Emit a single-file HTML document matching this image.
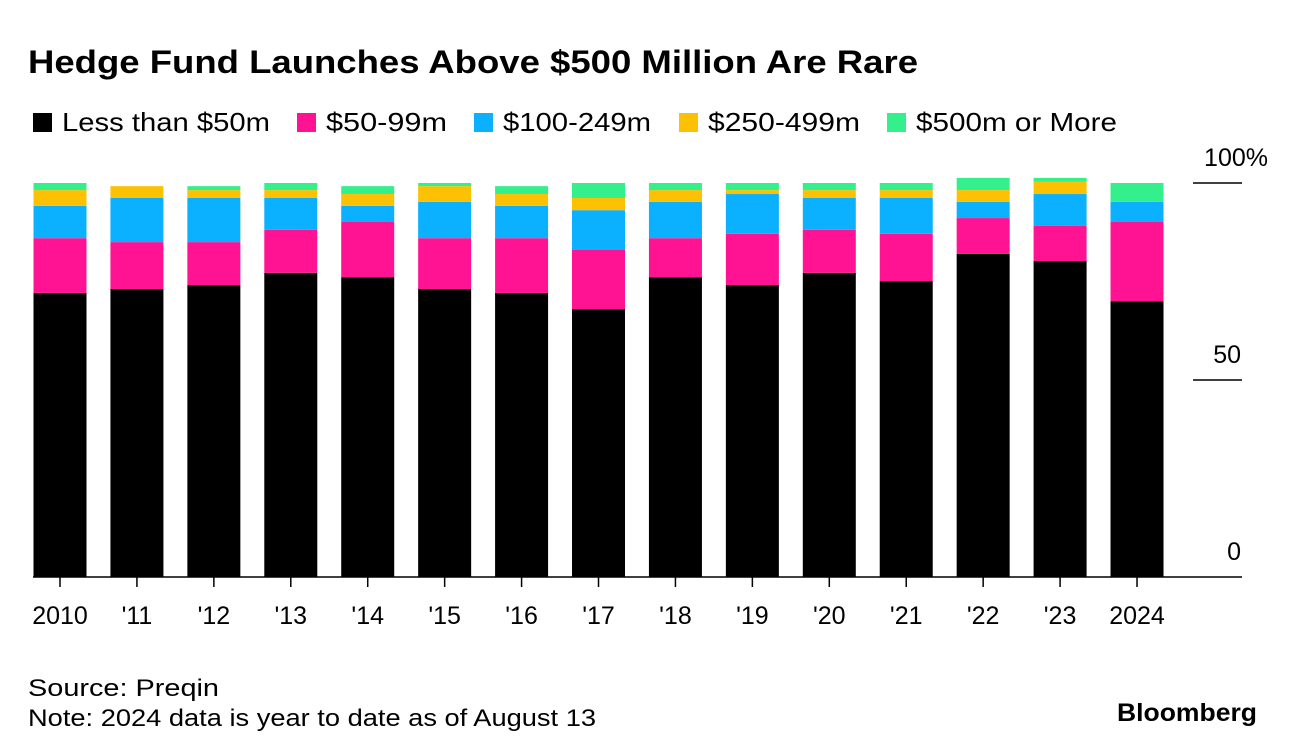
<!DOCTYPE html>
<html><head><meta charset="utf-8">
<style>
body{margin:0;background:#fff;width:1296px;height:756px;overflow:hidden;font-family:"Liberation Sans",sans-serif;}
svg{position:absolute;left:0;top:0}
</style></head>
<body>
<svg id="c" width="1296" height="756" xmlns="http://www.w3.org/2000/svg">
<text x="28" y="73" font-size="32" font-weight="bold" fill="#000" textLength="890" lengthAdjust="spacingAndGlyphs">Hedge Fund Launches Above $500 Million Are Rare</text>
<g id="legend"></g>
<g id="grid"></g>
<g id="bars"></g>
<g id="xaxis"></g>
<text x="28" y="696" font-size="24" fill="#000" textLength="191" lengthAdjust="spacingAndGlyphs">Source: Preqin</text>
<text x="28" y="726" font-size="24" fill="#000" textLength="568" lengthAdjust="spacingAndGlyphs">Note: 2024 data is year to date as of August 13</text>
<text x="1117" y="721" font-size="25" font-weight="bold" fill="#000" textLength="140" lengthAdjust="spacingAndGlyphs">Bloomberg</text>
</svg>
<script>
const categories=["2010","'11","'12","'13","'14","'15","'16","'17","'18","'19","'20","'21","'22","'23","2024"];
const seriesNames=["Less than $50m","$50-99m","$100-249m","$250-499m","$500m or More"];
const lessThan50=[72.1,73.1,74.1,77.2,76.1,73.1,72.1,68,76.1,74.1,77.2,75.1,82,80.2,70];
const from50to99=[13.9,11.9,10.9,10.9,14,12.9,13.9,15,9.9,13,10.9,12,9.1,8.9,20.1];
const from100to249=[8.2,11.2,11.2,8.1,4.1,9.2,8.2,10.1,9.2,10.1,8.1,9.1,4.1,8.1,5.1];
const from250to499=[4,3,2,2,3,4,3,3.1,3,1,2,2,3,3.1,0];
const over500=[1.8,0,1,1.8,2,0.8,2,3.8,1.8,1.8,1.8,1.8,3.1,1,4.8];
const yTicks=[0,50,100];
const yTickLabels=["0","50","100%"];
const colors=["#000000","#ff1393","#0bb0ff","#fcc102","#33ef8c"];
const series=[lessThan50,from50to99,from100to249,from250to499,over500];
const NS="http://www.w3.org/2000/svg";
const y0=577,yScale=3.94;
const y=v=>y0-v*yScale;
const x=i=>60+i*76.93;
const bw=53;
function mk(tag,attrs,parent){const e=document.createElementNS(NS,tag);for(const k in attrs)e.setAttribute(k,attrs[k]);parent.appendChild(e);return e;}
const lg=document.getElementById('legend');
const lx=[33,297,474,679,887];
const lw=[208,121,148,152,201];
seriesNames.forEach((n,i)=>{
  const g=mk('g',{},lg);
  
  
  mk('rect',{x:lx[i],y:113,width:19,height:19,fill:colors[i]},g);
  const t=mk('text',{x:lx[i]+29,y:131,'font-size':26,fill:'#000',textLength:lw[i],lengthAdjust:'spacingAndGlyphs'},g);t.textContent=n;
});
const gr=document.getElementById('grid');
yTicks.forEach((v,i)=>{
  if(v>0){const l=mk('line',{x1:1193,x2:1242,y1:y(v),y2:y(v),stroke:'#000','stroke-width':1.5},gr);
  }
  const isPct=yTickLabels[i].indexOf('%')>=0;
  const t=mk('text',{x:isPct?1268:1241,y:y(v)-17,'font-size':25,'text-anchor':'end',fill:'#000'},gr);
  
  t.textContent=yTickLabels[i];
});
const bg=document.getElementById('bars');
categories.forEach((c,i)=>{
  let acc=0;
  series.forEach((s,k)=>{
    const v=s[i];if(v<=0){return;}
    const r=mk('rect',{x:x(i)-bw/2,y:y(acc+v),width:bw,height:v*yScale,fill:colors[k]},bg);
    
    
    acc+=v;
  });
});
const xa=document.getElementById('xaxis');
mk('line',{x1:33,x2:1242,y1:y0,y2:y0,stroke:'#000','stroke-width':1.5},xa);
categories.forEach((c,i)=>{
  mk('line',{x1:x(i),x2:x(i),y1:y0,y2:y0+10,stroke:'#000','stroke-width':1.5},xa);
  const t=mk('text',{x:x(i),y:624,'font-size':25,'text-anchor':'middle',fill:'#000'},xa);
  
  
  t.textContent=c;
});
</script>
</body></html>
